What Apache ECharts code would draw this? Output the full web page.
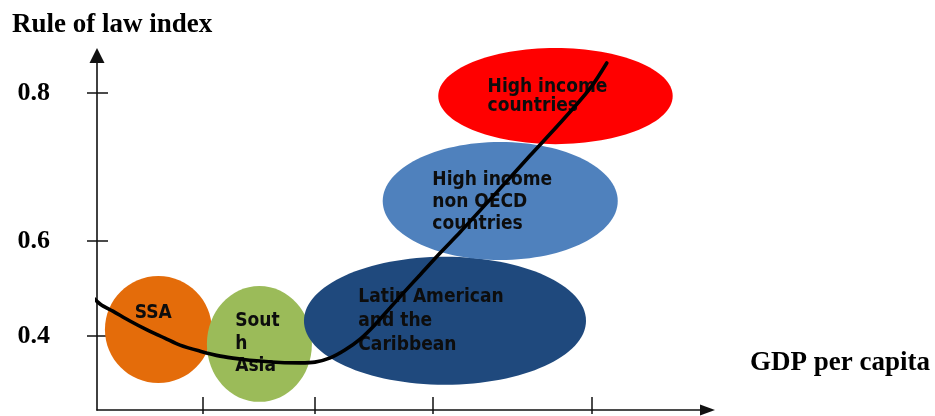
<!DOCTYPE html>
<html>
<head>
<meta charset="utf-8">
<title>Rule of law index and GDP per capita</title>
<script src="https://cdn.jsdelivr.net/npm/echarts@6/dist/echarts.min.js"></script>
<style>
  html, body { margin: 0; padding: 0; background: #ffffff; }
  #chart { width: 935px; height: 416px; }
</style>
</head>
<body>
<div id="chart"></div>
<script>
// Schematic axes: both run 0-100 along their length.
const yTickText = ['0.4', '0.6', '0.8'];
const yTickLevels = [20.9, 47.7, 89.4];
const xTickLevels = [17.4, 35.7, 55.0, 81.1];

// Country groups: spread of GDP per capita and rule of law on the schematic scale.
const regionNames = ['SSA', 'South Asia', 'Latin American and the Caribbean',
  'High income non OECD countries', 'High income countries'];
const regionLabels = ['SSA', 'Sout\nh\nAsia', 'Latin American\nand the\nCaribbean',
  'High income\nnon OECD\ncountries', 'High income\ncountries'];
const gdpLow  = [1.3, 18.0, 33.9, 46.8, 55.9];
const gdpHigh = [18.8, 35.2, 80.1, 85.3, 94.3];
const lawLow  = [7.6, 2.3, 7.1, 42.3, 75.0];
const lawHigh = [37.8, 35.0, 43.2, 75.6, 102.1];

// Relationship curve between income and rule of law.
const curveGdp = [-2.0, 0.5, 2.6, 5.4, 8.2, 11.1, 13.6, 16.9, 20.2, 23.4, 26.7, 30.0,
  33.3, 35.7, 38.2, 40.6, 43.1, 45.5, 48.0, 50.5, 52.9, 56.2, 59.5, 65.2, 70.9,
  76.3, 80.8, 83.5];
const curveLaw = [34.1, 29.9, 27.9, 25.1, 22.6, 20.3, 18.3, 16.6, 15.2, 14.4, 13.8, 13.4,
  13.3, 13.5, 14.7, 16.9, 20.0, 24.0, 28.8, 33.6, 38.1, 44.3, 50.2, 60.9, 71.7,
  81.8, 90.8, 97.9];

// Drawing styles for the groups (same order as regionNames).
const regionColors = ['#E46C0A', '#9BBB59', '#1F497D', '#4F81BD', '#FF0000'];
const regionLineHeights = [22, 22.5, 24, 22, 19];
const regionTextShiftX = [-5, -2, -14, -8, -8];
const regionTextShiftY = [-16, 0, 0, 1, 0];

const labelFont = '"DejaVu Sans Condensed", "DejaVu Sans", Verdana, sans-serif';
const labelSize = 19;
const serifFont = '"Liberation Serif", "Times New Roman", serif';
const axisColor = '#111111';

const measureCtx = document.createElement('canvas').getContext('2d');
measureCtx.font = 'bold ' + labelSize + 'px ' + labelFont;
function blockWidth(text) {
  return Math.max.apply(null, text.split('\n').map(s => measureCtx.measureText(s).width));
}

const chart = echarts.init(document.getElementById('chart'), null, { renderer: 'canvas' });

const axisBase = {
  type: 'value', min: 0, max: 100, gridIndex: 0,
  splitLine: { show: false }, splitArea: { show: false }
};
const arrowLine = {
  show: true,
  symbol: ['none', 'triangle'],
  lineStyle: { color: axisColor, width: 1.6 }
};

chart.setOption({
  animation: false,
  backgroundColor: '#ffffff',
  title: [
    { text: 'Rule of law index', left: 7, top: 7,
      textStyle: { fontFamily: serifFont, fontWeight: 'bold', fontSize: 27, color: '#000' } },
    { text: 'GDP per capita', right: 0, top: 345,
      textStyle: { fontFamily: serifFont, fontWeight: 'bold', fontSize: 27, color: '#000' } }
  ],
  grid: { left: 97, right: 227.5, top: 55.5, bottom: 6, containLabel: false, outerBoundsMode: 'none' },
  xAxis: [
    Object.assign({}, axisBase, {
      position: 'bottom',
      axisLine: Object.assign({}, arrowLine, { symbolSize: [11, 15] }),
      axisTick: { show: true, inside: true, length: 13, customValues: xTickLevels,
        lineStyle: { color: axisColor, width: 1.5 } },
      axisLabel: { show: false }
    }),
    Object.assign({}, axisBase, {
      position: 'bottom', offset: 0,
      axisLine: { show: false },
      axisTick: { show: true, inside: false, length: 4, customValues: xTickLevels,
        lineStyle: { color: axisColor, width: 1.5 } },
      axisLabel: { show: false }
    })
  ],
  yAxis: [
    Object.assign({}, axisBase, {
      position: 'left',
      axisLine: Object.assign({}, arrowLine, { symbolSize: [15, 15] }),
      axisTick: { show: true, inside: false, length: 10, customValues: yTickLevels,
        lineStyle: { color: axisColor, width: 1.5 } },
      axisLabel: {
        show: true, customValues: yTickLevels, margin: 47,
        fontFamily: serifFont, fontWeight: 'bold', fontSize: 26, color: '#000',
        formatter: function (v) {
          let best = 0;
          yTickLevels.forEach((lv, i) => {
            if (Math.abs(lv - v) < Math.abs(yTickLevels[best] - v)) best = i;
          });
          return yTickText[best];
        }
      }
    }),
    Object.assign({}, axisBase, {
      position: 'left', offset: 0,
      axisLine: { show: false },
      axisTick: { show: true, inside: true, length: 11, customValues: yTickLevels,
        lineStyle: { color: axisColor, width: 1.5 } },
      axisLabel: { show: false }
    })
  ],
  series: [
    {
      type: 'custom',
      name: 'Country groups',
      xAxisIndex: 0, yAxisIndex: 0,
      clip: false,
      encode: { x: [0, 1], y: [2, 3] },
      data: regionNames.map((n, i) => ({
        name: n,
        value: [gdpLow[i], gdpHigh[i], lawLow[i], lawHigh[i]]
      })),
      renderItem: function (params, api) {
        const i = params.dataIndex;
        const p1 = api.coord([api.value(0), api.value(2)]);
        const p2 = api.coord([api.value(1), api.value(3)]);
        const cx = (p1[0] + p2[0]) / 2;
        const cy = (p1[1] + p2[1]) / 2;
        const rx = Math.abs(p2[0] - p1[0]) / 2;
        const ry = Math.abs(p2[1] - p1[1]) / 2;
        const text = regionLabels[i];
        const w = blockWidth(text);
        return {
          type: 'group',
          children: [
            { type: 'ellipse', shape: { cx: cx, cy: cy, rx: rx, ry: ry },
              style: { fill: regionColors[i] } },
            { type: 'text', x: cx - w / 2 + regionTextShiftX[i], y: cy + regionTextShiftY[i],
              style: {
                text: text, fill: '#0d0d0d',
                fontFamily: labelFont, fontWeight: 'bold', fontSize: labelSize,
                lineHeight: regionLineHeights[i],
                align: 'left', verticalAlign: 'middle'
              } }
          ]
        };
      },
      z: 2
    },
    {
      type: 'line',
      name: 'Trend',
      xAxisIndex: 0, yAxisIndex: 0,
      data: curveGdp.map((g, i) => [g, curveLaw[i]]),
      smooth: 0.3,
      showSymbol: false,
      clip: false,
      lineStyle: { color: '#000000', width: 3.6, cap: 'round' },
      z: 5
    }
  ]
});
</script>
</body>
</html>
